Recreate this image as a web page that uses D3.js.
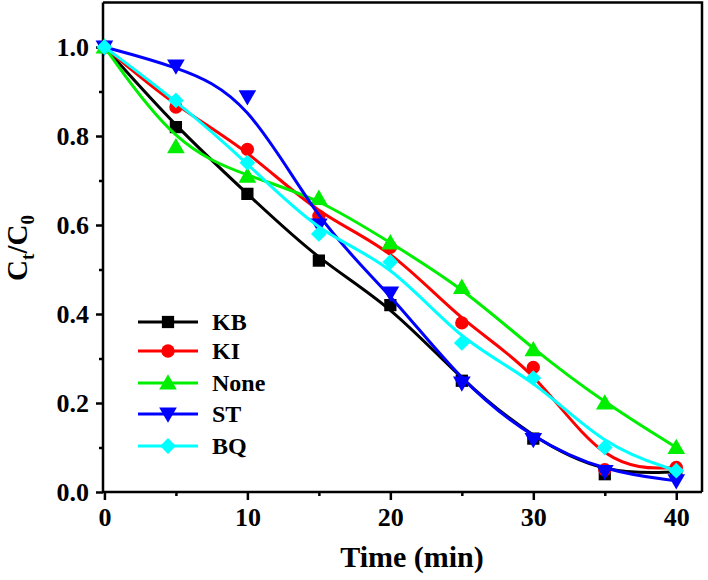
<!DOCTYPE html>
<html>
<head>
<meta charset="utf-8">
<script src="https://cdn.jsdelivr.net/npm/d3@7"></script>
<style>
  html, body { margin: 0; padding: 0; background: #fff; }
  svg { display: block; }
  text { font-family: "Liberation Serif", "Times New Roman", serif; font-weight: bold; fill: #000; }
</style>
</head>
<body>
<svg id="chart" width="708" height="580"></svg>
<script>
// ---- data ----
const times = [0, 5, 10, 15, 20, 25, 30, 35, 40];
const seriesNames = ["KB", "KI", "None", "ST", "BQ"];
const seriesColors = ["#000000", "#ff0000", "#00ee00", "#0000ff", "#00ffff"];
const seriesSymbols = ["square", "circle", "triangle", "triangleDown", "diamond"];
const valuesKB   = [1.00, 0.82, 0.67, 0.52, 0.42, 0.25, 0.12, 0.04, 0.045];
const valuesKI   = [1.00, 0.865, 0.77, 0.62, 0.55, 0.38, 0.28, 0.05, 0.055];
const valuesNone = [1.00, 0.776, 0.71, 0.66, 0.56, 0.46, 0.32, 0.20, 0.10];
const valuesST   = [1.00, 0.957, 0.888, 0.60, 0.447, 0.245, 0.118, 0.046, 0.025];
const valuesBQ   = [1.00, 0.88, 0.74, 0.58, 0.517, 0.335, 0.256, 0.10, 0.048];
const seriesValues = [valuesKB, valuesKI, valuesNone, valuesST, valuesBQ];
const xTicks = [0, 10, 20, 30, 40];
const xMinorTicks = [5, 15, 25, 35];
const yTicks = [0.0, 0.2, 0.4, 0.6, 0.8, 1.0];
const yMinorTicks = [0.1, 0.3, 0.5, 0.7, 0.9];

// ---- layout ----
const svg = d3.select("#chart");
const pLeft = 103, pRight = 702, pTop = 2.5, pBottom = 492;
const x = d3.scaleLinear().domain([-0.1, 41.8]).range([pLeft, pRight]);
const y = d3.scaleLinear().domain([0, 1.1]).range([pBottom, pTop]);

// frame (top & right)
svg.append("path")
  .attr("d", `M${pLeft},${pTop}H${pRight}V${pBottom}`)
  .attr("fill", "none").attr("stroke", "#000").attr("stroke-width", 2.5);

// axes
const xAxis = svg.append("g").attr("transform", `translate(0,${pBottom})`)
  .call(d3.axisBottom(x).tickValues(xTicks).tickFormat(d3.format("d")).tickSize(8).tickPadding(6));
svg.append("g").attr("transform", `translate(0,${pBottom})`)
  .call(d3.axisBottom(x).tickValues(xMinorTicks).tickFormat("").tickSize(4))
  .call(g => g.select(".domain").remove());
const yAxis = svg.append("g").attr("transform", `translate(${pLeft},0)`)
  .call(d3.axisLeft(y).tickValues(yTicks).tickFormat(d3.format(".1f")).tickSize(7).tickPadding(7));
svg.append("g").attr("transform", `translate(${pLeft},0)`)
  .call(d3.axisLeft(y).tickValues(yMinorTicks).tickFormat("").tickSize(4))
  .call(g => g.select(".domain").remove());

svg.selectAll(".domain").attr("stroke-width", 2.5).attr("stroke", "#000");
svg.selectAll(".tick line").attr("stroke-width", 2.5).attr("stroke", "#000");
svg.selectAll(".tick text").attr("font-size", 26).attr("font-family", "Liberation Serif, serif").attr("font-weight", "bold").attr("fill", "#000");
xAxis.selectAll(".tick text").attr("dy", "0.75em");
xAxis.select(".domain").attr("d", `M${pLeft},0H${pRight}`);
yAxis.select(".domain").attr("d", `M0,${pBottom}V${pTop}`);

// axis titles
svg.append("text").attr("x", 412).attr("y", 567).attr("text-anchor", "middle")
  .attr("font-size", 30).text("Time (min)");
const yl = svg.append("text").attr("transform", "translate(27,248) rotate(-90)")
  .attr("text-anchor", "middle").attr("font-size", 29);
yl.append("tspan").text("C");
yl.append("tspan").attr("font-size", 19).attr("dy", 7).text("t");
yl.append("tspan").attr("dy", -7).text("/C");
yl.append("tspan").attr("font-size", 19).attr("dy", 7).text("0");

// symbols
function symbolPath(kind) {
  switch (kind) {
    case "square": return d3.symbol(d3.symbolSquare, 150)();
    case "circle": return d3.symbol(d3.symbolCircle, 140)();
    case "triangle": return d3.symbol(d3.symbolTriangle, 135)();
    case "triangleDown": return d3.symbol(d3.symbolTriangle, 135)();
    case "diamond": return d3.symbol(d3.symbolSquare, 125)();
  }
}
function symbolRot(kind) {
  if (kind === "triangleDown") return 180;
  if (kind === "diamond") return 45;
  return 0;
}
function symbolDy(kind) {
  if (kind === "triangle") return 1.5;
  if (kind === "triangleDown") return -1.5;
  return 0;
}

const line = d3.line().x(d => x(d[0])).y(d => y(d[1])).curve(d3.curveBasis);

seriesNames.forEach((name, i) => {
  const pts = times.map((t, j) => [t, seriesValues[i][j]]);
  const g = svg.append("g");
  g.append("path").attr("d", line(pts)).attr("fill", "none")
    .attr("stroke", seriesColors[i]).attr("stroke-width", 3);
  g.selectAll("path.m").data(pts).enter().append("path").attr("class", "m")
    .attr("d", symbolPath(seriesSymbols[i]))
    .attr("transform", d => `translate(${x(d[0])},${y(d[1]) + symbolDy(seriesSymbols[i])}) rotate(${symbolRot(seriesSymbols[i])})`)
    .attr("fill", seriesColors[i]);
});

// legend
const legendY = [322, 351, 383, 414, 446];
seriesNames.forEach((name, i) => {
  const g = svg.append("g").attr("transform", `translate(0,${legendY[i]})`);
  g.append("line").attr("x1", 138).attr("x2", 198).attr("y1", 0).attr("y2", 0)
    .attr("stroke", seriesColors[i]).attr("stroke-width", 3);
  g.append("path").attr("d", symbolPath(seriesSymbols[i]))
    .attr("transform", `translate(168,${symbolDy(seriesSymbols[i])}) rotate(${symbolRot(seriesSymbols[i])})`)
    .attr("fill", seriesColors[i]);
  g.append("text").attr("x", 212).attr("y", 0).attr("dy", "0.35em")
    .attr("font-size", 24).text(name);
});
</script>
</body>
</html>
